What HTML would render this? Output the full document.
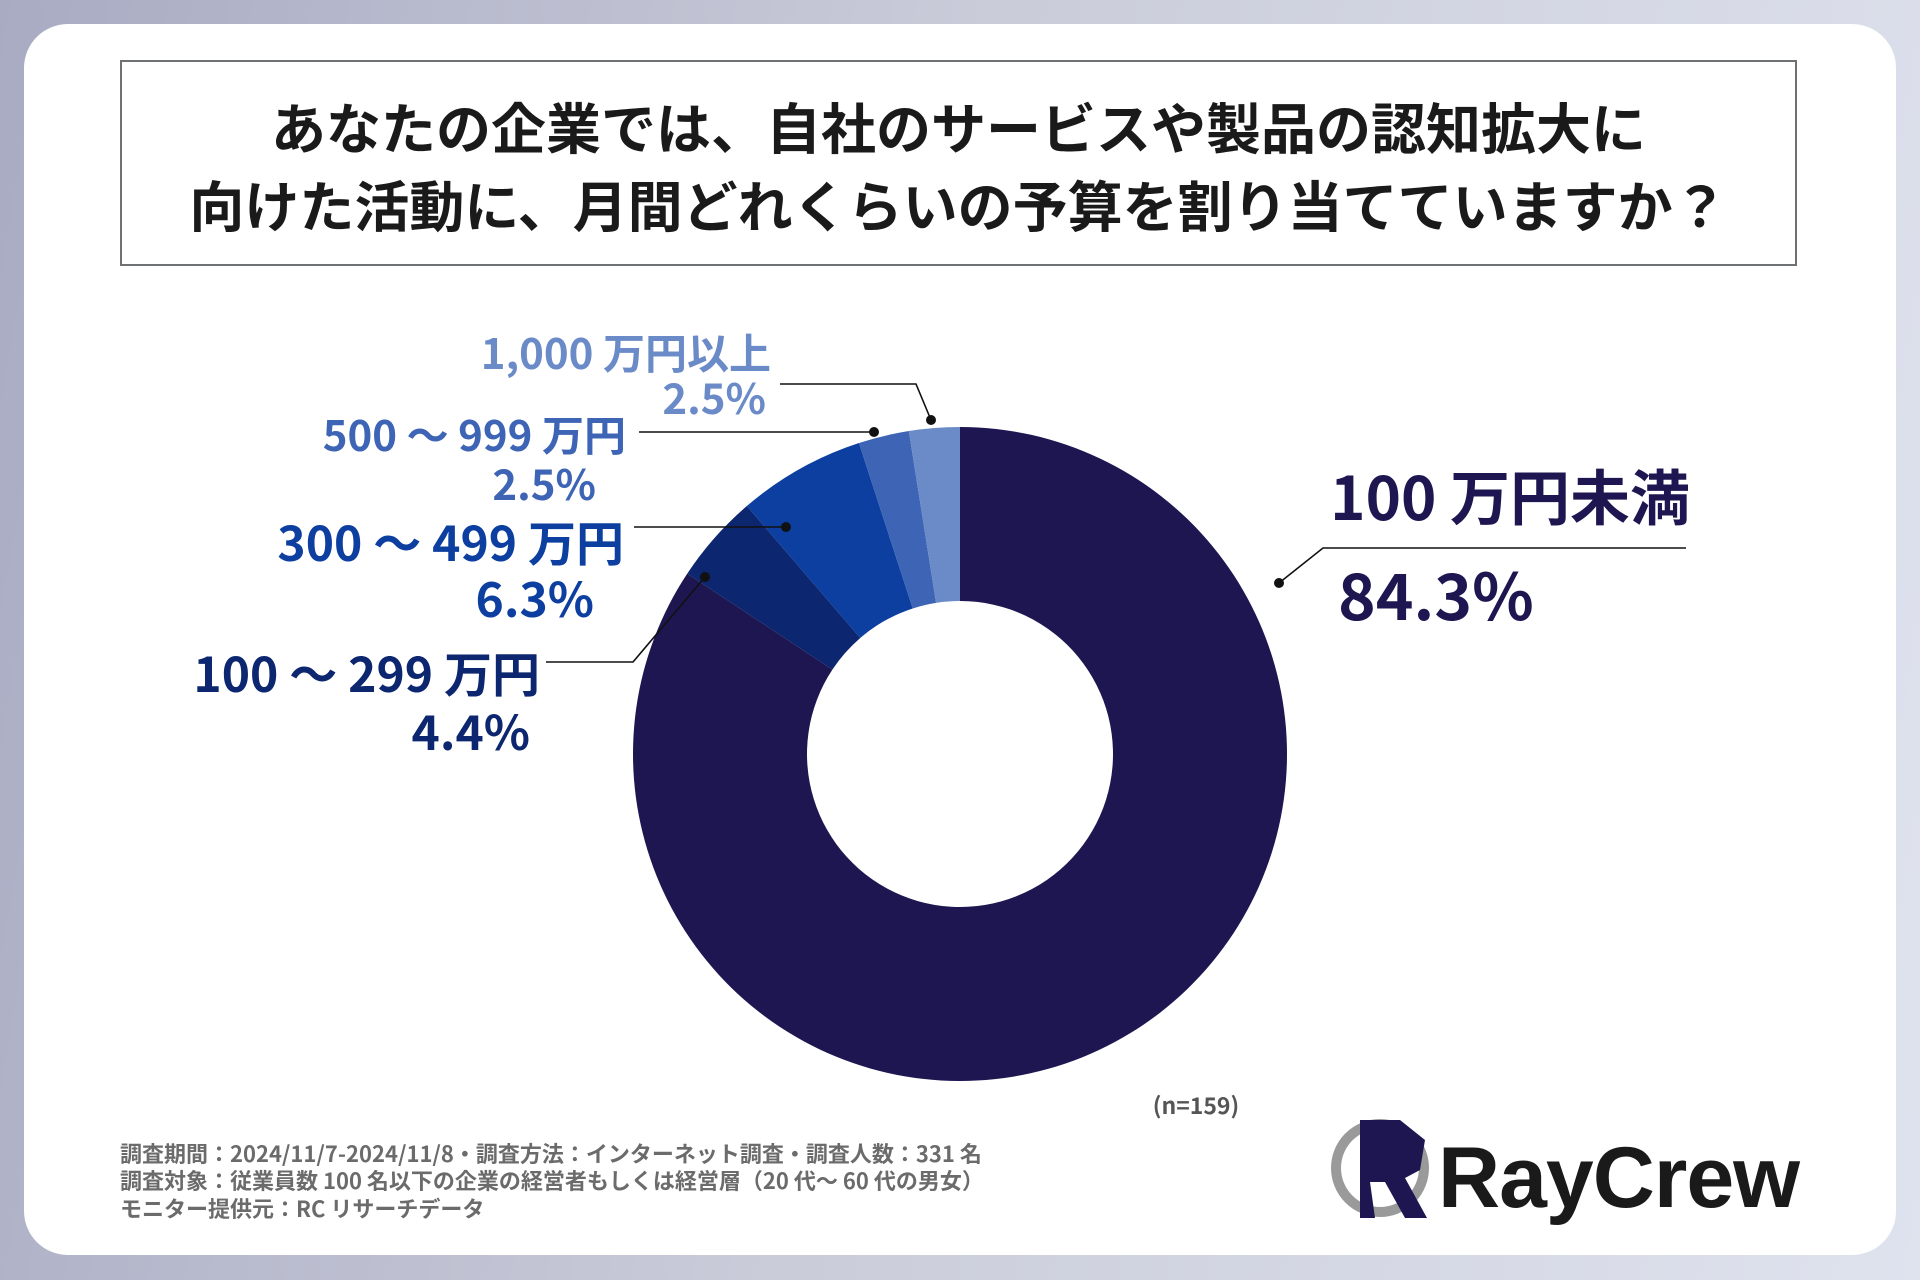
<!DOCTYPE html>
<html><head><meta charset="utf-8">
<style>
html,body{margin:0;padding:0;}
body{width:1920px;height:1280px;overflow:hidden;background:linear-gradient(100deg,#a9abc3 0%,#c9cbd9 45%,#dfe3ee 100%);font-family:"Liberation Sans","Noto Sans CJK JP",sans-serif;}
#card{position:absolute;left:24px;top:24px;width:1872px;height:1231px;background:#fff;border-radius:44px;}
#title{position:absolute;left:120px;top:60px;width:1677px;height:206px;border:2px solid #6e7275;box-sizing:border-box;text-align:center;font-weight:bold;font-size:55px;line-height:78px;color:#1a1a1a;padding-top:24px;font-family:"Noto Sans CJK JP",sans-serif;white-space:nowrap;}
svg{position:absolute;left:0;top:0;}
.f{font-family:"Noto Sans CJK JP","Liberation Sans",sans-serif;font-weight:bold;}
.foot{position:absolute;left:120px;font-size:22px;line-height:26px;color:#6b6b6b;font-weight:bold;font-family:"Noto Sans CJK JP",sans-serif;white-space:nowrap;}
</style></head><body>
<div id="card"></div>
<div id="title">あなたの企業では、自社のサービスや製品の認知拡大に<br>向けた活動に、月間どれくらいの予算を割り当てていますか？</div>
<svg width="1920" height="1280">
<g id="slices"></g>
<g id="leaders" stroke="#111" stroke-width="1.6" fill="none">
<polyline points="780,384 916,384 931,420"/>
<polyline points="639,432 874,432"/>
<polyline points="634,527 786,527"/>
<polyline points="546,662 633,662 705,577"/>
<polyline points="1686,548 1323,548 1279,583"/>
</g>
<g fill="#111">
<circle cx="931" cy="420" r="5"/><circle cx="874" cy="432" r="5"/><circle cx="786" cy="527" r="5"/><circle cx="705" cy="577" r="5"/><circle cx="1279" cy="583" r="5"/>
</g>
<g class="f">
<text x="1690" y="520" font-size="60" fill="#1e1650" text-anchor="end">100 万円未満</text>
<text x="1338" y="620" font-size="64" fill="#1e1650">84.3%</text>
<text x="771" y="369" font-size="42" fill="#6b8bc8" text-anchor="end">1,000 万円以上</text>
<text x="766" y="414" font-size="42" fill="#6b8bc8" text-anchor="end">2.5%</text>
<text x="626" y="451" font-size="42" fill="#3d64b5" text-anchor="end">500 ～ 999 万円</text>
<text x="596" y="500" font-size="42" fill="#3d64b5" text-anchor="end">2.5%</text>
<text x="624" y="561" font-size="48" fill="#0d3fa0" text-anchor="end">300 ～ 499 万円</text>
<text x="594" y="617" font-size="48" fill="#0d3fa0" text-anchor="end">6.3%</text>
<text x="540" y="692" font-size="48" fill="#0c2670" text-anchor="end">100 ～ 299 万円</text>
<text x="530" y="750" font-size="48" fill="#0c2670" text-anchor="end">4.4%</text>
<text x="1196" y="1114" font-size="23" fill="#555" text-anchor="middle">(n=159)</text>
</g>
<g>
<circle cx="1380" cy="1168" r="44" fill="none" stroke="#9a9a9a" stroke-width="10"/>
<polygon points="1360,1120 1400,1120 1425,1140 1420,1170 1405,1178 1427,1218 1405,1218 1385,1182 1370,1182 1375,1218 1360,1218" fill="#1e1650"/>
<text x="1438" y="1207" font-size="86" font-weight="bold" fill="#1a1a1a" font-family="Liberation Sans,sans-serif" letter-spacing="-1">RayCrew</text>
</g>
</svg>
<div class="foot" style="top:1140px">調査期間：2024/11/7-2024/11/8・調査方法：インターネット調査・調査人数：331 名</div>
<div class="foot" style="top:1167px">調査対象：従業員数 100 名以下の企業の経営者もしくは経営層（20 代～ 60 代の男女）</div>
<div class="foot" style="top:1195px">モニター提供元：RC リサーチデータ</div>
<script>
const categories=["100万円未満","100～299万円","300～499万円","500～999万円","1,000万円以上"];
const values=[84.3,4.4,6.3,2.5,2.5];
const colors=["#1e1650","#0c2670","#0d3fa0","#3d64b5","#6b8bc8"];
const cx=960,cy=754,R=327,r=153;
const g=document.getElementById('slices');
const total=values.reduce((a,b)=>a+b,0);
let a0=0;
function pt(rad,ang){return [cx+rad*Math.sin(ang),cy-rad*Math.cos(ang)];}
values.forEach((v,i)=>{
  const a1=a0+v/total*2*Math.PI;
  const large=(a1-a0)>Math.PI?1:0;
  const [x1,y1]=pt(R,a0),[x2,y2]=pt(R,a1),[x3,y3]=pt(r,a1),[x4,y4]=pt(r,a0);
  const p=document.createElementNS('http://www.w3.org/2000/svg','path');
  p.setAttribute('d',`M${x1},${y1} A${R},${R} 0 ${large} 1 ${x2},${y2} L${x3},${y3} A${r},${r} 0 ${large} 0 ${x4},${y4} Z`);
  p.setAttribute('fill',colors[i]);
  
  
  g.appendChild(p);
  a0=a1;
});
</script>
</body></html>
